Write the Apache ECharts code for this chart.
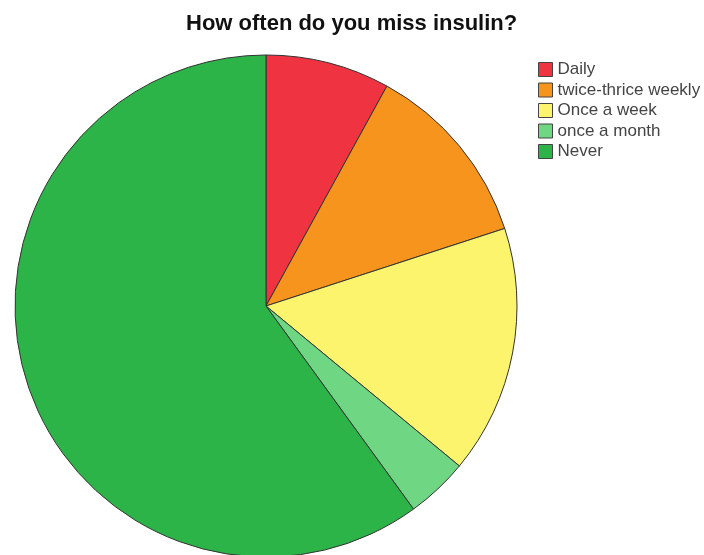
<!DOCTYPE html>
<html>
<head>
<meta charset="utf-8">
<script src="https://cdn.jsdelivr.net/npm/echarts@6/dist/echarts.min.js"></script>
<style>
html, body { margin: 0; padding: 0; background: #fff; }
#main { width: 704px; height: 555px; }
</style>
</head>
<body>
<div id="main"></div>
<script>
var chartTitle = 'How often do you miss insulin?';
var answers = ['Daily', 'twice-thrice weekly', 'Once a week', 'once a month', 'Never'];
var counts = [2, 3, 4, 1, 15];
var sliceColors = ['#ef3340', '#f7941e', '#fbf46c', '#6fd784', '#2cb448'];

var pieData = [];
for (var i = 0; i < answers.length; i++) {
	pieData.push({
		name: answers[i],
		value: counts[i],
		itemStyle: { color: sliceColors[i] }
	});
}

var option = {
	animation: false,
	title: {
		text: chartTitle,
		left: 181,
		top: 8,
		textStyle: {
			fontFamily: 'Liberation Sans',
			fontSize: 22,
			fontWeight: 'bold',
			color: '#111'
		}
	},
	legend: {
		orient: 'vertical',
		left: 533,
		top: 56,
		itemWidth: 14,
		itemHeight: 14,
		itemGap: 3.5,
		icon: 'rect',
		data: answers,
		itemStyle: { borderColor: '#444', borderWidth: 1 },
		textStyle: {
			fontFamily: 'Liberation Sans',
			fontSize: 17,
			lineHeight: 17,
			color: '#444'
		}
	},
	series: [{
		type: 'pie',
		center: [266, 306],
		radius: 251,
		startAngle: 90,
		clockwise: true,
		label: { show: false },
		labelLine: { show: false },
		itemStyle: { borderColor: '#333', borderWidth: 1 },
		emphasis: { disabled: true },
		data: pieData
	}]
};

var myChart = echarts.init(document.getElementById('main'));
myChart.setOption(option);
</script>
</body>
</html>
